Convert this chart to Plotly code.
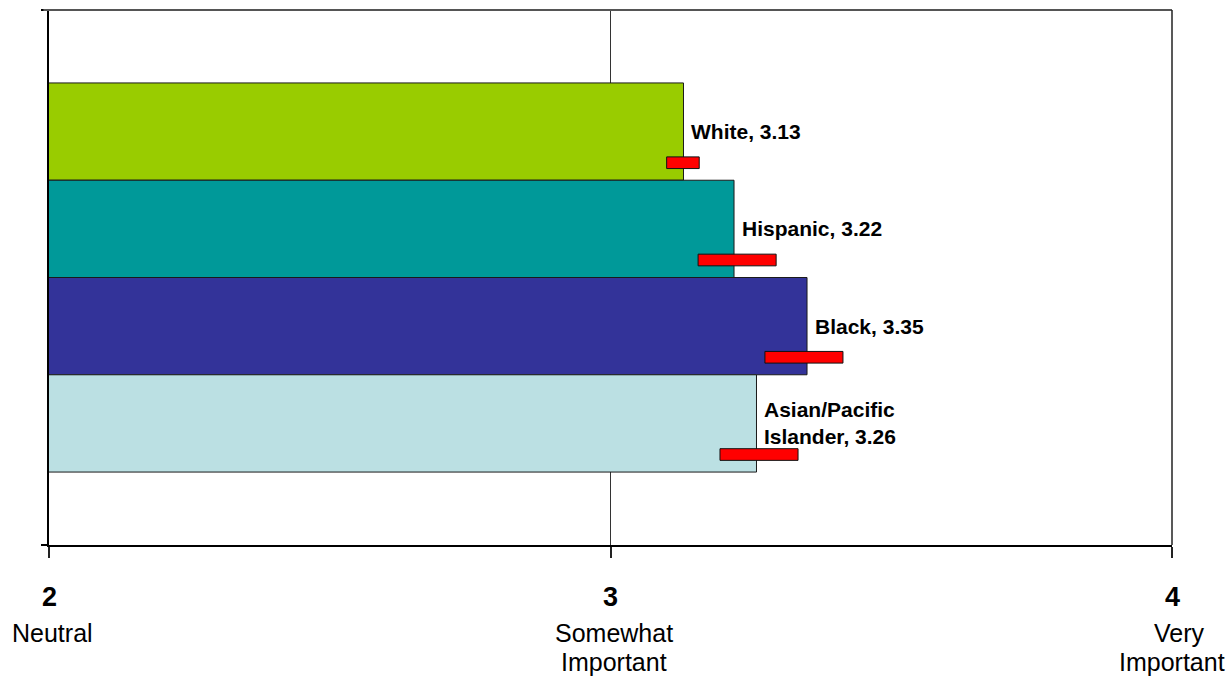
import numpy as np
import plotly.graph_objects as go

# Mean importance rating by group, with confidence-interval ranges
groups = ["White", "Hispanic", "Black", "Asian/Pacific<br>Islander"]
means = [3.13, 3.22, 3.35, 3.26]
ci_low = [3.10, 3.156, 3.275, 3.195]
ci_high = [3.158, 3.295, 3.414, 3.334]
colors = ["#99CC00", "#009999", "#333399", "#BBE0E3"]

scale_vals = [2, 3, 4]
scale_names = ["Neutral", "Somewhat<br>Important", "Very<br>Important"]

FONT = "Arial, Liberation Sans, sans-serif"

n = len(groups)
slots = (n - 1 - np.arange(n)) + 1.25  # first group drawn on top
y_max = n + 1.5

fig = go.Figure()
for i in range(n):
    fig.add_trace(go.Bar(
        x=[means[i]], y=[slots[i]], orientation="h", width=1.0,
        marker=dict(color=colors[i], line=dict(color="#1a1a1a", width=1)),
        hoverinfo="skip", showlegend=False,
    ))

shapes = []
annotations = []
for i in range(n):
    yc = slots[i] - 0.5 + 0.18
    shapes.append(dict(
        type="rect", xref="x", yref="y",
        x0=ci_low[i], x1=ci_high[i], y0=yc - 0.06, y1=yc + 0.06,
        fillcolor="#FF0000", line=dict(color="#111111", width=1),
    ))
    label = f"{groups[i]}, {means[i]:.2f}"
    annotations.append(dict(
        x=means[i], y=slots[i], xref="x", yref="y", text=f"<b>{label}</b>",
        showarrow=False, xanchor="left", yanchor="middle", xshift=6, align="left",
        font=dict(family=FONT, size=21, color="#000000"),
    ))

# top border of the plot area
shapes.append(dict(type="line", xref="paper", yref="paper", x0=-0.005, x1=1, y0=1, y1=1,
                   line=dict(color="#555555", width=2)))
# right edge
shapes.append(dict(type="line", xref="paper", yref="paper", x0=1, x1=1, y0=0, y1=1,
                   line=dict(color="#222222", width=1.5)))

for v, name in zip(scale_vals, scale_names):
    annotations.append(dict(
        x=v, y=0, xref="x", yref="paper", text=f"<b>{v}</b>", showarrow=False,
        xanchor="center", yanchor="middle", yshift=-52,
        font=dict(family=FONT, size=27, color="#000000"),
    ))
    parts = name.split("<br>")
    for j, p in enumerate(parts):
        annotations.append(dict(
            x=v, y=0, xref="x", yref="paper", text=p, showarrow=False,
            xanchor="center", yanchor="middle", yshift=-88 - 29 * j,
            xshift=3 if v != 4 else (7 if j == 0 else 0),
            font=dict(family=FONT, size=25, color="#000000"),
        ))

fig.update_layout(
    width=1232, height=677,
    margin=dict(l=49, r=60, t=10, b=132),
    paper_bgcolor="white", plot_bgcolor="white",
    barmode="overlay",
    shapes=shapes, annotations=annotations,
    xaxis=dict(
        range=[2, 4], tickvals=scale_vals, showticklabels=False,
        ticks="outside", ticklen=11, tickcolor="#222222", tickwidth=1.5,
        showgrid=True, gridcolor="#333333", gridwidth=1.2,
        showline=True, linecolor="#000000", linewidth=2, zeroline=False,
    ),
    yaxis=dict(
        range=[0, y_max], tickvals=[0, y_max], showticklabels=False,
        ticks="outside", ticklen=6, tickcolor="#000000", tickwidth=1.5,
        showgrid=False, showline=True, linecolor="#000000", linewidth=2, zeroline=False,
    ),
)

fig.write_html("out.html")
